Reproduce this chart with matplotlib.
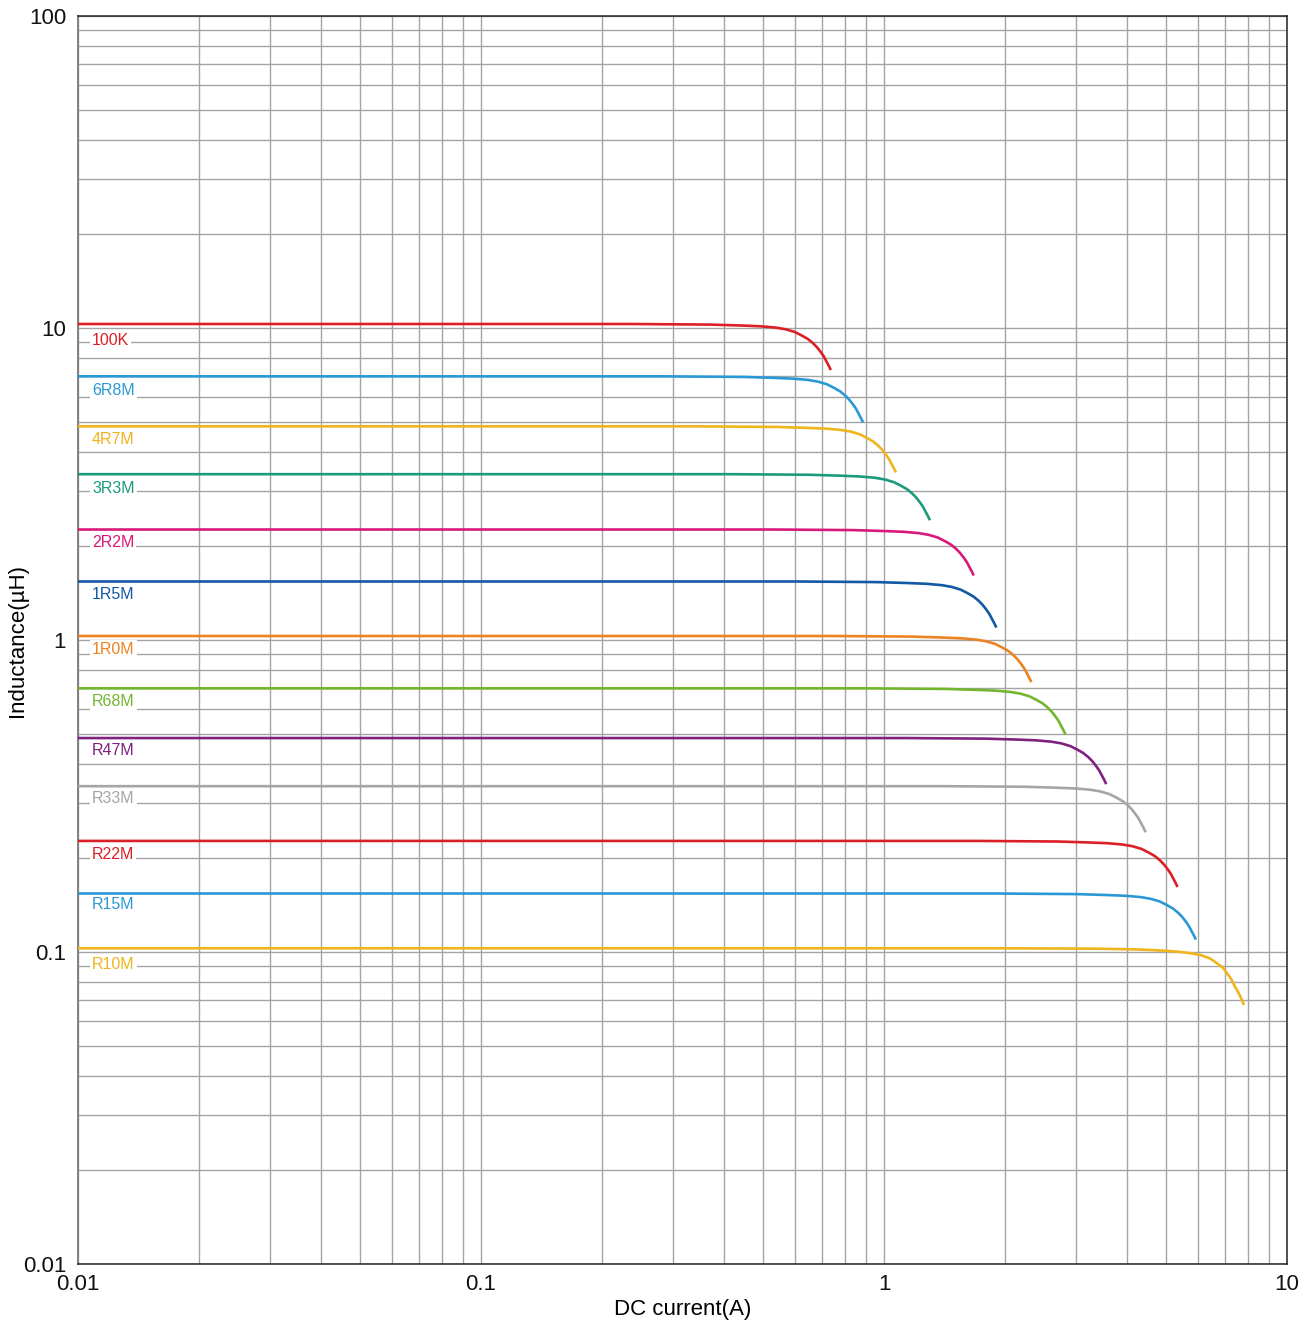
import matplotlib
matplotlib.use("Agg")
import numpy as np
import matplotlib.pyplot as plt
from matplotlib.ticker import FixedLocator, FixedFormatter, LogLocator, NullFormatter

plt.rcParams['font.family'] = ['Liberation Sans', 'DejaVu Sans']

# ---- data ----
names = ["100K", "6R8M", "4R7M", "3R3M", "2R2M", "1R5M", "1R0M",
         "R68M", "R47M", "R33M", "R22M", "R15M", "R10M"]
colors = ["#dc1f26", "#2b98d6", "#f0b41c", "#1b9a7d", "#d8197a", "#1159a3", "#eb8323",
          "#73b62e", "#7e217f", "#a5a5a5", "#dc1f26", "#2b98d6", "#f0b41c"]
# flat (low-current) inductance in uH
L_flat = [10.3, 7.0, 4.84, 3.40, 2.26, 1.54, 1.03, 0.70, 0.485, 0.340, 0.227, 0.154, 0.1028]
# current (A) at which each drawn curve ends
I_end = [0.738, 0.887, 1.07, 1.30, 1.67, 1.90, 2.32, 2.82, 3.56, 4.46, 5.35, 5.94, 7.82]

# roll-off shape (current / end current, inductance / flat inductance)
knee_I_ratio = [0.319, 0.504, 0.598, 0.670, 0.730, 0.773, 0.814, 0.847, 0.877,
                0.902, 0.923, 0.944, 0.961, 0.977, 0.989, 1.0]
knee_L_ratio = [1.0, 0.9956, 0.9890, 0.9832, 0.9738, 0.9616, 0.9427, 0.9186, 0.8953,
                0.8694, 0.8437, 0.8132, 0.7866, 0.7555, 0.7334, 0.7118]
# R10M rolls off further
knee_I_ratio_R10M = [0.2397, 0.4244, 0.5333, 0.5845, 0.6514, 0.7058, 0.7515, 0.7866, 0.8234,
                     0.8571, 0.8870, 0.9074, 0.9285, 0.9499, 0.9663, 0.9830, 1.0]
knee_L_ratio_R10M = [1.0, 0.99705, 0.99191, 0.98753, 0.98027, 0.97091, 0.96022, 0.94827, 0.92758,
                     0.8953, 0.8660, 0.8316, 0.7986, 0.7533, 0.7254, 0.6940, 0.6580]

I_start = 0.01

x_ticks = [0.01, 0.1, 1, 10]
x_tick_labels = ["0.01", "0.1", "1", "10"]
y_ticks = [0.01, 0.1, 1, 10, 100]
y_tick_labels = ["0.01", "0.1", "1", "10", "100"]

# ---- figure ----
W, H = 1311, 1325
fig = plt.figure(figsize=(W / 100, H / 100), dpi=100)
ax = fig.add_axes([78 / W, 1 - 1264 / H, (1287 - 78) / W, (1264 - 16) / H])
ax.set_xscale("log")
ax.set_yscale("log")
ax.set_xlim(0.01, 10)
ax.set_ylim(0.01, 100)

ax.xaxis.set_major_locator(FixedLocator(x_ticks))
ax.xaxis.set_major_formatter(FixedFormatter(x_tick_labels))
ax.yaxis.set_major_locator(FixedLocator(y_ticks))
ax.yaxis.set_major_formatter(FixedFormatter(y_tick_labels))
ax.xaxis.set_minor_locator(LogLocator(base=10, subs=range(2, 10)))
ax.yaxis.set_minor_locator(LogLocator(base=10, subs=range(2, 10)))
ax.xaxis.set_minor_formatter(NullFormatter())
ax.yaxis.set_minor_formatter(NullFormatter())

ax.grid(True, which="both", color="#a4a4a4", linewidth=1.0, zorder=0)
ax.set_axisbelow(True)
ax.tick_params(which="both", length=0, labelsize=16, colors="#111111")
ax.tick_params(axis="y", pad=8.5)
ax.tick_params(axis="x", pad=7)

for s in ["top", "bottom", "right"]:
    ax.spines[s].set_color("#222222")
    ax.spines[s].set_linewidth(1.1)
ax.spines["left"].set_color("#808080")
ax.spines["left"].set_linewidth(1.4)

label_offsets = [17, 14, 13, 14, 13, 13, 14, 13, 12, 12, 14, 11, 16]
for k, (name, col, L0, Ie, off) in enumerate(zip(names, colors, L_flat, I_end, label_offsets)):
    if name == "R10M":
        ir, lr = knee_I_ratio_R10M, knee_L_ratio_R10M
    else:
        ir, lr = knee_I_ratio, knee_L_ratio
    I = [I_start] + [Ie * r for r in ir]
    L = [L0] + [L0 * r for r in lr]
    ax.plot(I, L, color=col, linewidth=1.9, solid_capstyle="butt",
            solid_joinstyle="round", zorder=3)
    ax.annotate(name, xy=(I_start, L0), xytext=(14, -off), textcoords="offset pixels",
                ha="left", va="center", fontsize=11.5, color=col, zorder=4,
                bbox=dict(facecolor="white", edgecolor="none", pad=1.5))

ax.set_xlabel("DC current(A)", fontsize=16)
ax.set_ylabel("Inductance(µH)", fontsize=16)
ax.xaxis.label.set_va("center")
ax.yaxis.label.set_va("center")
ax.xaxis.set_label_coords(0.5, -(1310 - 1264) / 1248)
ax.yaxis.set_label_coords(-(78 - 18) / 1209, 0.5)

fig.savefig("out.png", dpi=100)
